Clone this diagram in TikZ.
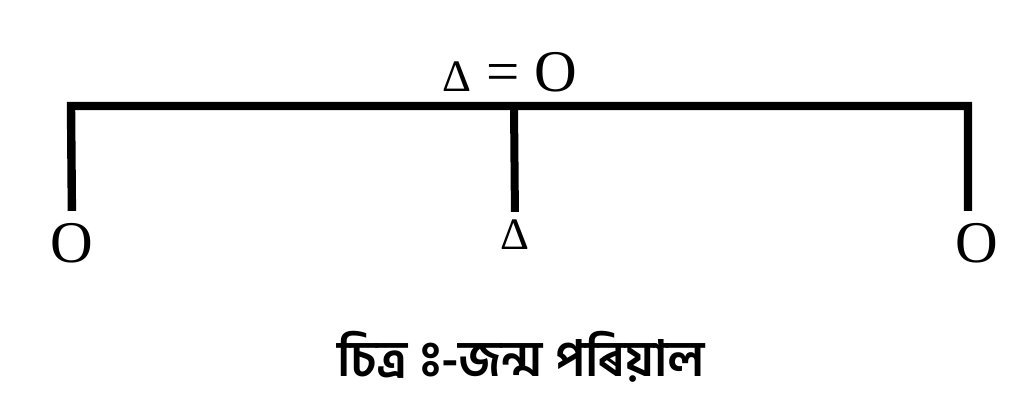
\documentclass[tikz,border=0pt]{standalone}
\usepackage{fontspec}
\setmainfont{Liberation Serif}
\newfontfamily\bnfont[Script=Bengali]{Hind Siliguri}
\newcommand\visarga{\XeTeXglyph\XeTeXcharglyph"0983\relax}
\begin{document}
\begin{tikzpicture}
        [x=0.025cm,y=-0.025cm,every node/.style={inner sep=0pt},
         kin/.style={font=\fontsize{42}{42}\selectfont},
         tri/.style={font=\fontsize{32}{32}\selectfont},
         tie/.style={line width=0.21cm, line join=miter}]
      \useasboundingbox (0,0) rectangle (1024,406);
      \node[kin] (cpl) at (510,72) {{\fontsize{32}{32}\selectfont Δ} = O};
      \coordinate (c1) at (71,106);
      \coordinate (c2) at (514,106);
      \coordinate (c3) at (968,106);
      \node[kin] (o1) at (72,243) {O};
      \node[tri] (d1) at (515,235) {Δ};
      \node[kin] (o3) at (977,243) {O};
      \node[font=\bnfont\bfseries\fontsize{35.5}{35.5}\selectfont] (cap) at (521,357) {চিত্ৰ \visarga-জন্ম পৰিয়াল};

      \draw[tie, shorten <=0.3cm, shorten >=0.3cm] (o1.north) -- (c1) -- (c3) -- (o3.north -| c3);
      \draw[line width=0.2cm, shorten >=0.2cm] (c2) -- (d1.north);
    \end{tikzpicture}
\end{document}
